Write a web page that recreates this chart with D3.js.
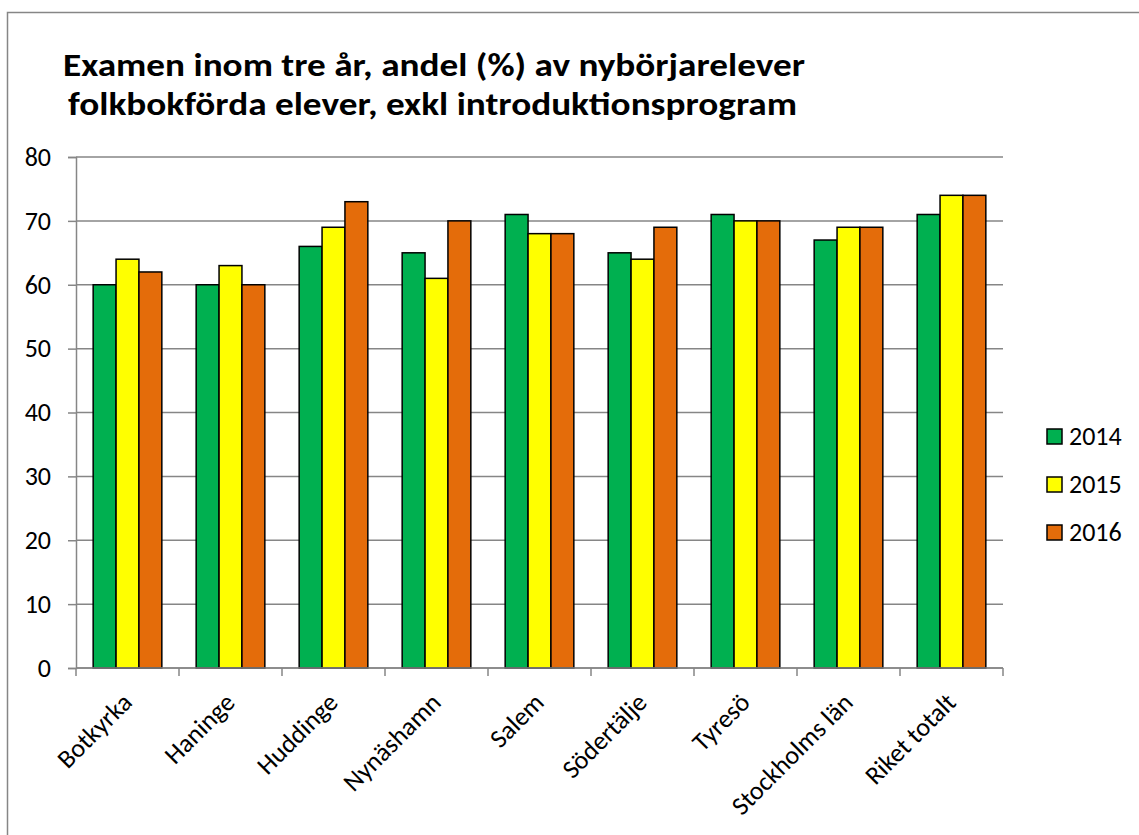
<!DOCTYPE html>
<html>
<head>
<meta charset="utf-8">
<script src="https://cdn.jsdelivr.net/npm/d3@7"></script>
<style>
  body { margin: 0; background: #fff; }
  svg text { font-family: Carlito, Calibri, "Liberation Sans", sans-serif; }
</style>
</head>
<body>
<div id="root"></div>
<script>
'use strict';

var categories = ['Botkyrka', 'Haninge', 'Huddinge', 'Nynäshamn', 'Salem', 'Södertälje', 'Tyresö', 'Stockholms län', 'Riket totalt'];
var years = ['2014', '2015', '2016'];
var values2014 = [60, 60, 66, 65, 71, 65, 71, 67, 71];
var values2015 = [64, 63, 69, 61, 68, 64, 70, 69, 74];
var values2016 = [62, 60, 73, 70, 68, 69, 70, 69, 74];
var yTicks = [0, 10, 20, 30, 40, 50, 60, 70, 80];
var colors = ['#00B050', '#FFFF00', '#E46C0A'];
var titleLines = ['Examen inom tre år, andel (%) av nybörjarelever', 'folkbokförda elever, exkl introduktionsprogram'];

var series = [values2014, values2015, values2016];

var W = 1139, H = 835;
var plotLeft = 76, plotRight = 1003, plotTop = 157, plotBottom = 668;

var svg = d3.select('#root').append('svg').attr('width', W).attr('height', H);

// chart border
svg.append('rect')
  .attr('x', 7.5).attr('y', 12.5)
  .attr('width', W).attr('height', H)
  .attr('fill', 'none').attr('stroke', '#868686').attr('stroke-width', 1.5);

// title
svg.append('text').attr('x', 63).attr('y', 76)
  .attr('font-size', 32).attr('font-weight', 'bold')
  .attr('textLength', 742).attr('lengthAdjust', 'spacingAndGlyphs')
  .text(titleLines[0]);
svg.append('text').attr('x', 68).attr('y', 115)
  .attr('font-size', 32).attr('font-weight', 'bold')
  .attr('textLength', 729).attr('lengthAdjust', 'spacingAndGlyphs')
  .text(titleLines[1]);

var x = d3.scaleBand().domain(categories).range([plotLeft, plotRight]).paddingInner(0).paddingOuter(0);
var bandPad = 0.5 * 1.5 / 4.5; // gap 150% of bar width
var xInner = d3.scaleBand().domain(years).range([x.bandwidth() * bandPad, x.bandwidth() * (1 - bandPad)]);
var y = d3.scaleLinear().domain([0, 80]).range([plotBottom, plotTop]);

// gridlines
svg.append('g').selectAll('line').data(yTicks).enter().append('line')
  .attr('x1', plotLeft).attr('x2', plotRight)
  .attr('y1', function (d) { return y(d); })
  .attr('y2', function (d) { return y(d); })
  .attr('stroke', '#868686').attr('stroke-width', 1.5);

// y axis
var yAxis = svg.append('g').attr('transform', 'translate(' + plotLeft + ',0)')
  .call(d3.axisLeft(y).tickValues(yTicks).tickSize(8).tickPadding(17));
yAxis.select('.domain').attr('stroke', '#868686').attr('stroke-width', 1.5);
yAxis.selectAll('.tick line').attr('stroke', '#868686').attr('stroke-width', 1.5);
yAxis.selectAll('text').attr('font-size', 26).attr('fill', '#000')
  .attr('font-family', 'Carlito, Calibri, "Liberation Sans", sans-serif');

// bars
var groups = svg.append('g').selectAll('g').data(categories).enter().append('g')
  .attr('transform', function (d) { return 'translate(' + x(d) + ',0)'; });

groups.selectAll('rect').data(function (d, i) {
  return series.map(function (s, j) { return { year: years[j], v: s[i], c: colors[j] }; });
}).enter().append('rect')
  .attr('x', function (d) { return xInner(d.year); })
  .attr('y', function (d) { return y(d.v); })
  .attr('width', xInner.bandwidth())
  .attr('height', function (d) { return y(0) - y(d.v); })
  .attr('fill', function (d) { return d.c; })
  .attr('stroke', '#000').attr('stroke-width', 1.5);

// x axis
var xTicks = categories.map(function (d) { return x(d); }).concat([plotRight]);
var xAxis = svg.append('g');
xAxis.append('line').attr('x1', plotLeft).attr('x2', plotRight).attr('y1', plotBottom).attr('y2', plotBottom)
  .attr('stroke', '#868686').attr('stroke-width', 1.5);
xAxis.selectAll('line.tick').data(xTicks).enter().append('line').attr('class', 'tick')
  .attr('x1', function (d) { return d; }).attr('x2', function (d) { return d; })
  .attr('y1', plotBottom).attr('y2', plotBottom + 8)
  .attr('stroke', '#868686').attr('stroke-width', 1.5);

xAxis.selectAll('text').data(categories).enter().append('text')
  .attr('transform', function (d) {
    return 'translate(' + (x(d) + x.bandwidth() / 2 + 6) + ',' + (plotBottom + 36) + ') rotate(-45)';
  })
  .attr('text-anchor', 'end')
  .attr('font-size', 26)
  .text(function (d) { return d; });

// legend
var legend = svg.append('g').selectAll('g').data(years).enter().append('g')
  .attr('transform', function (d, i) { return 'translate(1047,' + (429 + i * 48) + ')'; });
legend.append('rect').attr('width', 15).attr('height', 15)
  .attr('fill', function (d, i) { return colors[i]; })
  .attr('stroke', '#000').attr('stroke-width', 1.5);
legend.append('text').attr('x', 22).attr('y', 15.5)
  .attr('font-size', 26).text(function (d) { return d; });
</script>
</body>
</html>
